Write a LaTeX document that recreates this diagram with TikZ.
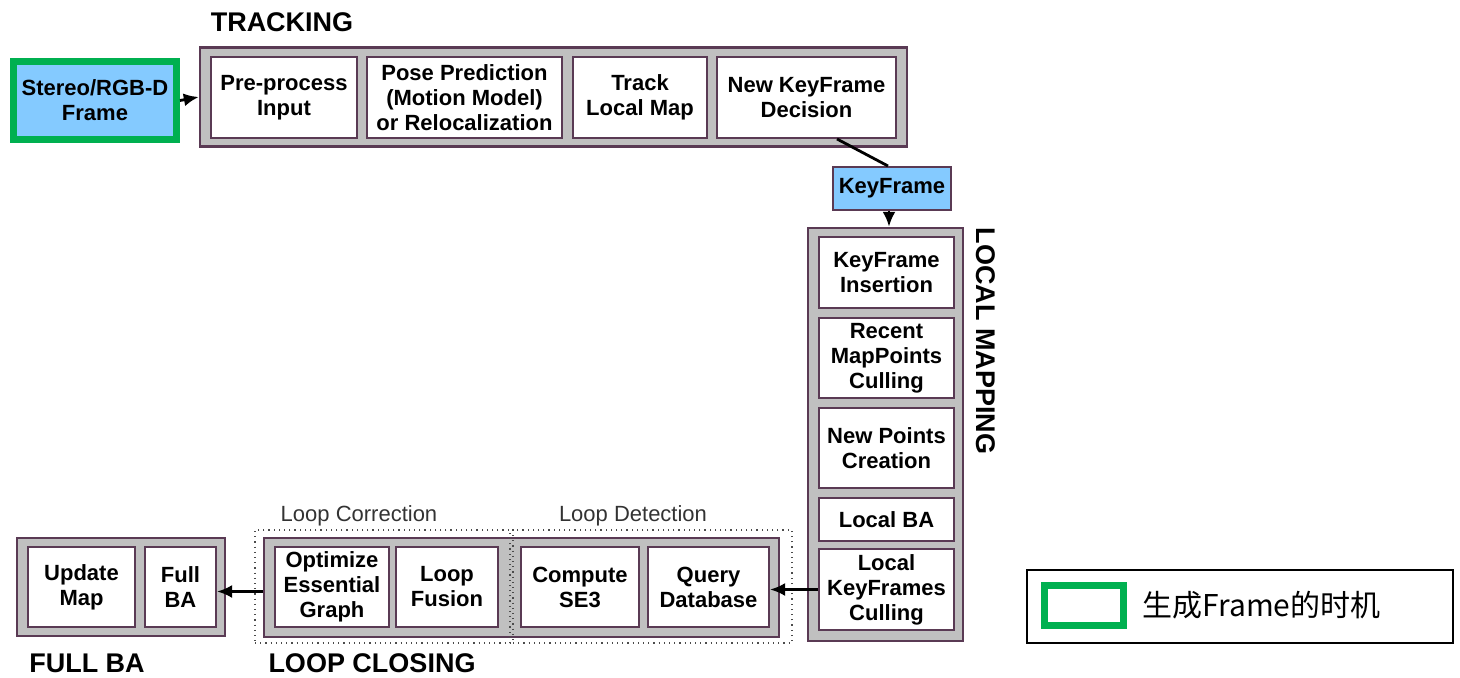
\documentclass[tikz,border=0pt]{standalone}
\usepackage{fontspec}
\setmainfont{Liberation Sans}
\newfontfamily\cjk{Noto Sans CJK SC}
\usetikzlibrary{arrows.meta,calc}

\definecolor{boxline}{RGB}{90,58,84}
\definecolor{boxgray}{RGB}{192,192,192}
\definecolor{frameblue}{RGB}{132,202,255}
\definecolor{framegreen}{RGB}{0,176,80}

\begin{document}
\begin{tikzpicture}[x=0.5pt,y=-0.5pt,
    stagebox/.style={draw=boxline, fill=boxgray, line width=1.2pt, minimum height=49.5pt},
    stepbox/.style={draw=boxline, fill=white, line width=1pt, inner sep=0pt, align=center,
        font=\fontsize{11}{12.5}\selectfont\bfseries},
    blockname/.style={font=\fontsize{13.5}{16}\selectfont\bfseries},
    subname/.style={font=\fontsize{11}{13}\selectfont, text=black!80},
    dotbox/.style={draw=black!70, dotted, line width=0.6pt},
    flow/.style={-{Latex[length=7.5pt,width=6.5pt]}, line width=1.4pt}]

    \useasboundingbox (0,0) rectangle (1460,678);

    % input frame
    \node[draw=framegreen, fill=frameblue, line width=3.5pt, minimum width=81.5pt, minimum height=39pt,
        inner sep=0pt, align=center, font=\fontsize{11}{12.5}\selectfont\bfseries]
        (frame) at (95,100.5) {Stereo/RGB-D\\Frame};

    % TRACKING
    \node[blockname] (trackname) at (282,22) {TRACKING};
    \node[stagebox, minimum width=353.5pt] (tracking) at (553.5,97) {};
    \node[stepbox, minimum width=73pt, minimum height=40.5pt] (preproc) at (284,97.5) {Pre-process\\Input};
    \node[stepbox, minimum width=97.5pt, minimum height=40.5pt] (posepred) at (464.5,97.5) {Pose Prediction\\(Motion Model)\\or Relocalization};
    \node[stepbox, minimum width=67pt, minimum height=40.5pt] (trackmap) at (640,97.5) {Track\\Local Map};
    \node[stepbox, minimum width=89.5pt, minimum height=40.5pt] (newkf) at (806.5,97.5) {New KeyFrame\\Decision};

    % keyframe handed over
    \node[draw=boxline, fill=frameblue, line width=1pt, minimum width=59pt, minimum height=21.5pt,
        inner sep=0pt, font=\fontsize{11}{12.5}\selectfont\bfseries] (keyframe) at (892,188.5) {KeyFrame};
    \coordinate (kfout) at ([xshift=-1.5pt]keyframe.south);

    % LOCAL MAPPING
    \node[blockname, rotate=-90] (mapname) at (986,341) {LOCAL MAPPING};
    \node[stagebox, minimum width=77.5pt, minimum height=206.5pt] (localmap) at (885.5,434.5) {};
    \node[stepbox, minimum width=67.5pt, minimum height=35.5pt] (kfinsert) at (886.5,272.5) {KeyFrame\\Insertion};
    \node[stepbox, minimum width=67.5pt, minimum height=40pt] (mpcull) at (886.5,358) {Recent\\MapPoints\\Culling};
    \node[stepbox, minimum width=67.5pt, minimum height=40pt] (newpts) at (886.5,448) {New Points\\Creation};
    \node[stepbox, minimum width=67.5pt, minimum height=21.5pt] (localba) at (886.5,519.5) {Local BA};
    \node[stepbox, minimum width=67.5pt, minimum height=40.5pt] (kfcull) at (886.5,589.5) {Local\\KeyFrames\\Culling};

    % LOOP CLOSING
    \node[stagebox, minimum width=257.5pt] (loopclose) at (521.5,587.5) {};
    \node[dotbox, minimum width=127.5pt, minimum height=56.5pt] (loopcorr) at (382.5,586.5) {};
    \node[dotbox, minimum width=139.5pt, minimum height=56.5pt] (loopdet) at (652.5,586.5) {};
    \node[subname] (corrname) at (359,516) {Loop Correction};
    \node[subname] (detname) at (633,516) {Loop Detection};
    \node[stepbox, minimum width=57pt, minimum height=40pt] (optgraph) at (332,587) {Optimize\\Essential\\Graph};
    \node[stepbox, minimum width=51pt, minimum height=40pt] (fusion) at (447,587) {Loop\\Fusion};
    \node[stepbox, minimum width=59pt, minimum height=40pt] (se3) at (580,587) {Compute\\SE3};
    \node[stepbox, minimum width=60.5pt, minimum height=40pt] (query) at (708.5,587) {Query\\Database};
    \node[blockname] (closename) at (372,663) {LOOP CLOSING};

    % FULL BA
    \node[stagebox, minimum width=104pt, minimum height=49pt] (fullstage) at (121,587) {};
    \node[stepbox, minimum width=53.5pt, minimum height=40pt] (updmap) at (81.5,587) {Update\\Map};
    \node[stepbox, minimum width=35.5pt, minimum height=40pt] (fullba) at (180.5,587) {Full\\BA};
    \node[blockname] (fullname) at (87,663) {FULL BA};

    % connectors
    \coordinate (loopout) at ([yshift=-2pt]loopclose.west);
    \draw[flow] (frame.east) -- (tracking.west);
    \draw[line width=1.4pt] ([xshift=15.25pt]newkf.south) -- ([xshift=-2pt]keyframe.north);
    \draw[flow] (kfout) -- (localmap.north -| kfout);
    \draw[flow] (kfcull.west) -- (kfcull.west -| query.east);
    \draw[flow] (loopout) -- (loopout -| fullba.east);

    % legend
    \node[draw=black, line width=1pt, minimum width=213pt, minimum height=36.5pt] (legend) at (1240,606.5) {};
    \node[draw=framegreen, line width=3.5pt, minimum width=39.5pt, minimum height=20pt, inner sep=0pt] (legendkey) at (1083.5,605.5) {};
    \node[anchor=west, inner sep=0pt, font=\cjk\fontsize{15}{18}\selectfont] (legendtext) at (1142,605.5) {生成Frame的时机};

\end{tikzpicture}
\end{document}
